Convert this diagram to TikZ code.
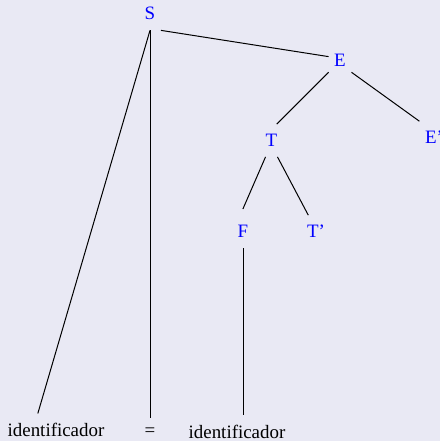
\documentclass[tikz,border=0pt]{standalone}
\usepackage{fontspec}
\setmainfont{Liberation Serif}

\definecolor{treeBg}{RGB}{233,233,244}
\colorlet{treeSym} {blue}
\colorlet{treeLine}{black}

\begin{document}
\begin{tikzpicture}[x=1bp, y=1bp,
    sym/.style={anchor=base, inner xsep=5.5bp, inner ysep=10bp,
                font=\fontsize{19}{23}\selectfont},
    nonterm/.style={sym, text=treeSym},
    term/.style={sym, text=black},
    branch/.style={treeLine, line width=1bp}]
  \fill[treeBg] (0,0) rectangle (440,441);
  \useasboundingbox (0,0) rectangle (440,441);

  % nonterminals
  \node[nonterm] (S)  at (150,421) {S};
  \node[nonterm] (E)  at (340,374) {E};
  \node[nonterm] (Ep) at (434,297) {E'};
  \node[nonterm] (T)  at (271.5,294.3) {T};
  \node[nonterm] (F)  at (243,203) {F};
  \node[nonterm] (Tp) at (316,203) {T'};

  % terminals
  \node[term] (id1) at (56,4)  {identificador};
  \node[term] (eq)  at (150,4) {=};
  \node[term] (id2) at (237,2) {identificador};

  % branches
  \draw[branch] (S.south) -- (id1.137);
  \draw[branch] (S.south) -- (S.south |- eq.north);
  \draw[branch] (S.south east) -- (E.160);
  \draw[branch] (E.-135) -- (T.72);
  \draw[branch] (E.-45) -- (Ep.north west);
  \draw[branch, shorten >=7bp] (T.-110) -- (F.100);
  \draw[branch] (T.-70) -- (Tp.115);
  \draw[branch] (F.south) -- (F.south |- id2.north);
\end{tikzpicture}
\end{document}
